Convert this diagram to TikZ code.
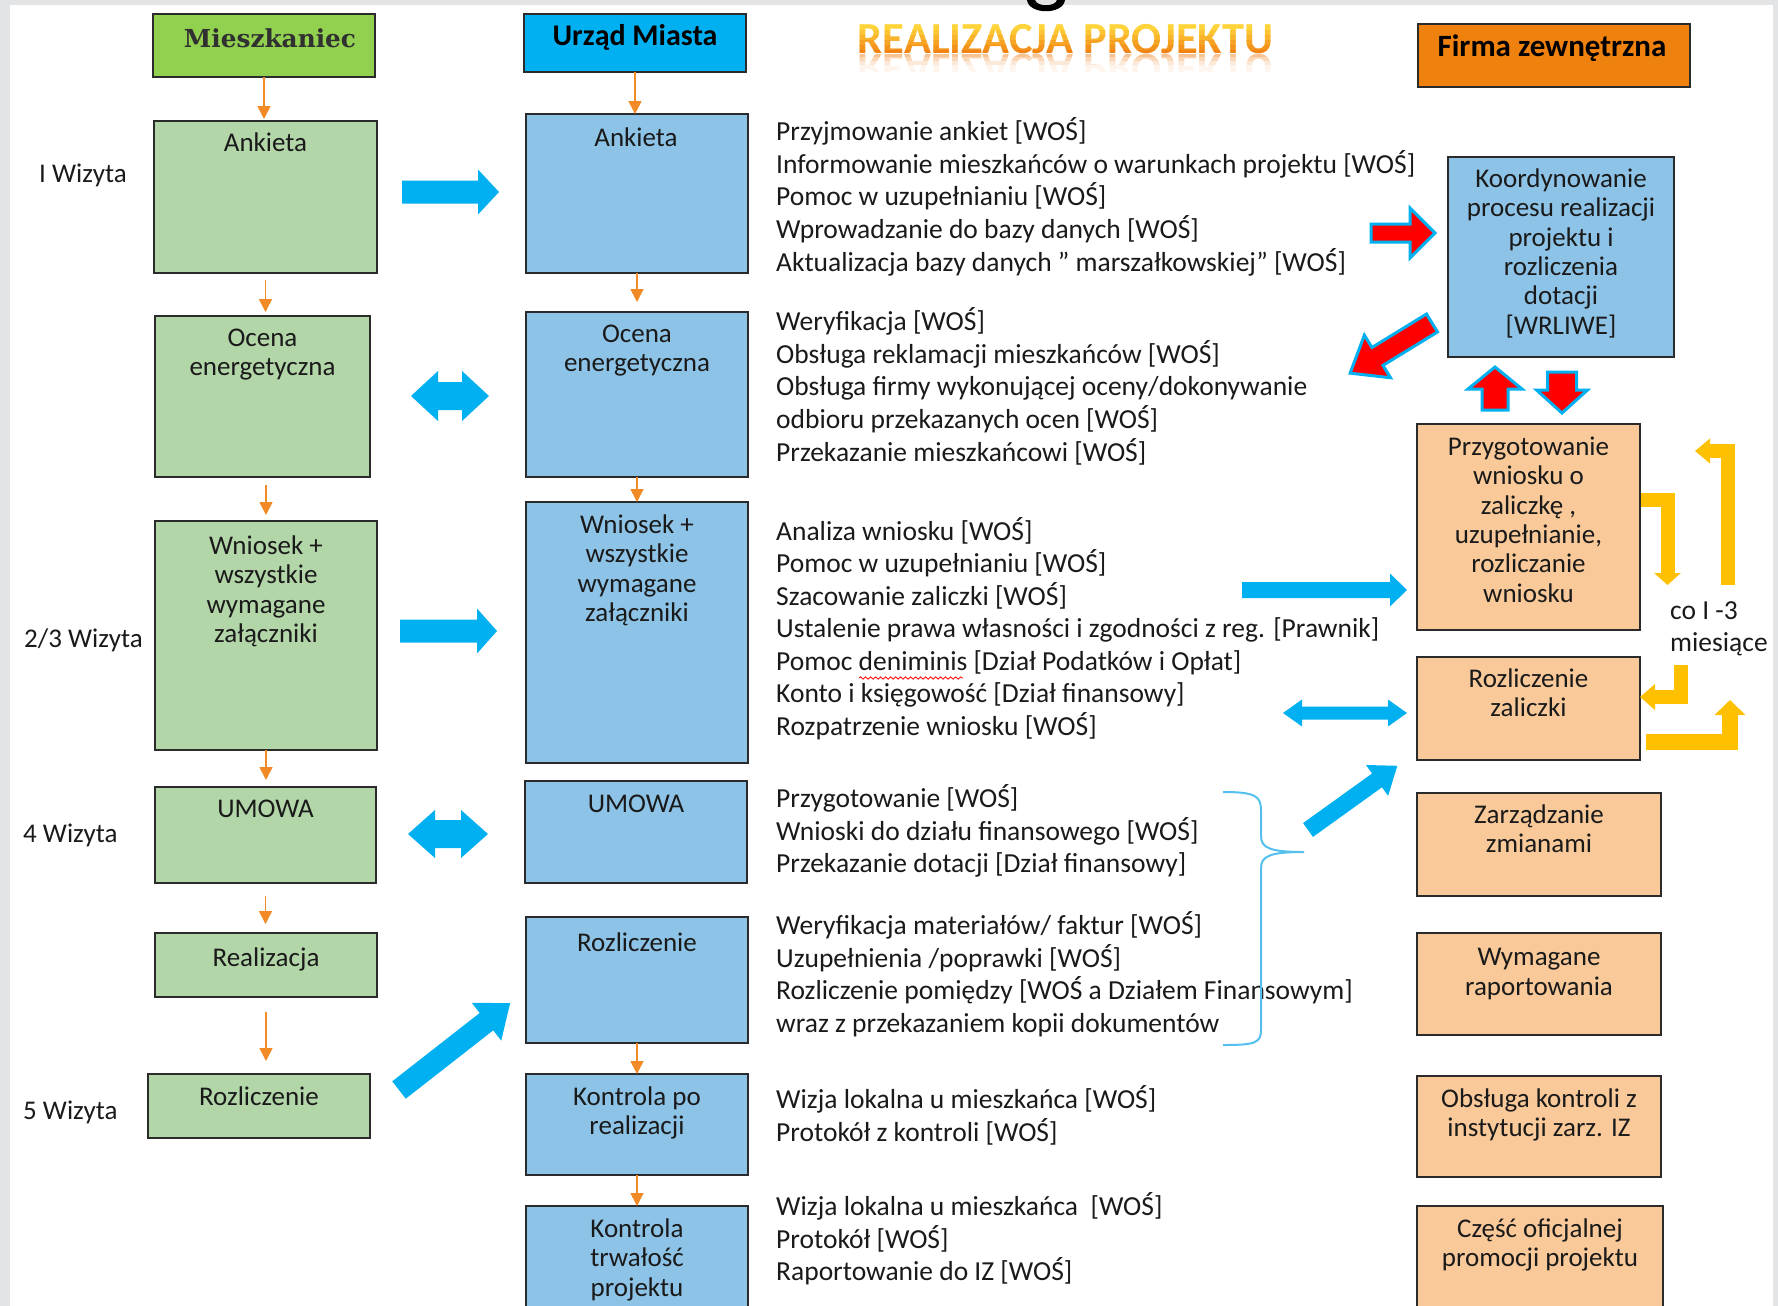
\documentclass[tikz,border=0pt]{standalone}
\usepackage{fontspec}
\setmainfont{Carlito}
\newfontfamily\slabfont{DejaVu Serif}
\usetikzlibrary{arrows.meta,fit,decorations.pathmorphing}
\definecolor{gfill}{HTML}{B3D6A9}
\definecolor{ghead}{HTML}{92D050}
\definecolor{bfill}{HTML}{8DC3E6}
\definecolor{bhead}{HTML}{00B0F0}
\definecolor{ofill}{HTML}{F9C999}
\definecolor{ohead}{HTML}{EF820E}
\definecolor{cyanA}{HTML}{00B0F0}
\definecolor{yelA}{HTML}{FFC000}
\definecolor{oline}{HTML}{F28A26}
\definecolor{boxline}{HTML}{2B2B2B}
\definecolor{txt}{HTML}{1A1A1A}
\definecolor{mtxt}{HTML}{303030}
\definecolor{braceC}{HTML}{55C0EE}
\definecolor{tyellow}{HTML}{FFD43A}
\definecolor{torange}{HTML}{EE7A10}
\definecolor{slideg}{HTML}{E3E4E5}
\tikzset{
  mybox/.style={draw=boxline, line width=1.8pt, inner sep=0pt, outer sep=0pt},
  gbox/.style={mybox, fill=gfill},
  ghd/.style={mybox, fill=ghead},
  bbox/.style={mybox, fill=bfill},
  bhd/.style={mybox, fill=bhead},
  obox/.style={mybox, fill=ofill},
  ohd/.style={mybox, fill=ohead},
  btxt/.style={font=\fontsize{27}{29.4}\selectfont, text=txt, align=center, anchor=north, inner sep=0pt, yshift=17.58pt, execute at begin node=\strut},
  blk/.style={font=\fontsize{27.5}{32.9}\selectfont, text=txt, align=left, anchor=north west, inner sep=0pt, yshift=20.03pt, execute at begin node=\strut},
  blkc/.style={font=\fontsize{27.5}{32.5}\selectfont, text=txt, align=left, anchor=north west, inner sep=0pt, yshift=19.75pt, execute at begin node=\strut},
  lbl/.style={font=\fontsize{27}{32}\selectfont, text=txt, anchor=base west, inner sep=0pt},
  hdtxt/.style={text=black, anchor=base, inner sep=0pt},
  oarr/.style={draw=oline, line width=1.6pt, -{Triangle[width=13pt,length=13pt]}},
  yarr/.style={draw=yelA, line join=miter},
  ttl/.style={anchor=base, inner sep=0pt, font=\bfseries},
  carr/.style={fill=cyanA},
  rarr/.style={fill=red, draw=cyanA, line width=3pt, line join=miter},
  pics/barrow/.style n args={4}{code={\path[pic actions] (0,-#2) -- ({#1-#4},-#2) -- ({#1-#4},-#3) -- (#1,0) -- ({#1-#4},#3) -- ({#1-#4},#2) -- (0,#2) -- cycle;}},
  pics/dbarrow/.style n args={4}{code={\path[pic actions] (0,0) -- (#4,-#3) -- (#4,-#2) -- ({#1-#4},-#2) -- ({#1-#4},-#3) -- (#1,0) -- ({#1-#4},#3) -- ({#1-#4},#2) -- (#4,#2) -- (#4,#3) -- cycle;}},
}
\begin{document}
\begin{tikzpicture}[x=1pt,y=-1pt]
\useasboundingbox (0,0) rectangle (1778,1306);
\fill[slideg] (0,0) rectangle (1778,1306);
\fill[white] (10,5) rectangle (1773,1306);
% partial glyph of cut-off title
\fill[black] (1027,0) .. controls (1029,15) and (1063,15) .. (1065,0) -- (1057,0) .. controls (1055,7) and (1037,7) .. (1035,0) -- cycle;

% ---------- title ----------
\foreach \ya/\yb/\pc in {0/31/100, 31/36/82, 36/41/64, 41/46/46, 46/51/28, 51/60/10} {
  \begin{scope}
    \clip (850,\ya) rectangle (1285,\yb);
    \node[ttl, text=tyellow!\pc!torange] (ttl\ya) at (1065.5,54) {\resizebox{415pt}{!}{REALIZACJA PROJEKTU}};
  \end{scope}
}
\foreach \ya/\yb/\pc in {54/58/45, 58/62/30, 62/66/17, 66/72/7} {
  \begin{scope}
    \clip (850,\ya) rectangle (1285,\yb);
    \node[ttl, text=torange!\pc!white] (ttr\ya) at (1065.5,55) {\scalebox{1}[-1]{\resizebox{415pt}{!}{REALIZACJA PROJEKTU}}};
  \end{scope}
}

% ---------- column 1: Mieszkaniec ----------
\node[ghd, fit={(153,14) (375,77)}] (hm) {};
\node[hdtxt, text=mtxt] (hmt) at (270,48) {\resizebox{172pt}{!}{\slabfont\bfseries Mieszkaniec}};
\node[gbox, fit={(154,121) (377,273)}] (g1) {};
\node[btxt] (g1t) at (265.5,148) {Ankieta};
\node[gbox, fit={(155,316) (370,477)}] (g2) {};
\node[btxt] (g2t) at (262.5,346) {Ocena\\energetyczna};
\node[gbox, fit={(155,521) (377,750)}] (g3) {};
\node[btxt] (g3t) at (266,553) {Wniosek +\\wszystkie\\wymagane\\załączniki};
\node[gbox, fit={(155,787) (376,883)}] (g4) {};
\node[btxt] (g4t) at (265.5,814) {UMOWA};
\node[gbox, fit={(155,933) (377,997)}] (g5) {};
\node[btxt] (g5t) at (266,963) {Realizacja};
\node[gbox, fit={(148,1074) (370,1138)}] (g6) {};
\node[btxt] (g6t) at (259,1102) {Rozliczenie};

\node[lbl] (w1) at (39,182) {I Wizyta};
\node[lbl] (w2) at (24,647) {2/3 Wizyta};
\node[lbl] (w4) at (23,842) {4 Wizyta};
\node[lbl] (w5) at (23,1119) {5 Wizyta};

% ---------- column 2: Urzad Miasta ----------
\node[bhd, fit={(524,14) (746,72)}] (hu) {};
\node[hdtxt, font=\fontsize{30}{32}\selectfont\bfseries] (hut) at (635,46) {Urząd Miasta};
\node[bbox, fit={(526,114) (748,273)}] (b1) {};
\node[btxt] (b1t) at (636,143) {Ankieta};
\node[bbox, fit={(526,312) (748,477)}] (b2) {};
\node[btxt] (b2t) at (637,342) {Ocena\\energetyczna};
\node[bbox, fit={(526,502) (748,763)}] (b3) {};
\node[btxt] (b3t) at (637,532) {Wniosek +\\wszystkie\\wymagane\\załączniki};
\node[bbox, fit={(525,781) (747,883)}] (b4) {};
\node[btxt] (b4t) at (636,809) {UMOWA};
\node[bbox, fit={(526,917) (748,1043)}] (b5) {};
\node[btxt] (b5t) at (637,948) {Rozliczenie};
\node[bbox, fit={(526,1074) (748,1175)}] (b6) {};
\node[btxt] (b6t) at (637,1104) {Kontrola po\\realizacji};
\node[bbox, fit={(526,1206) (748,1330)}] (b7) {};
\node[btxt] (b7t) at (637,1236) {Kontrola\\trwałość\\projektu};

% ---------- column 4: Firma zewnetrzna ----------
\node[ohd, fit={(1418,24) (1690,87)}] (hf) {};
\node[hdtxt, font=\fontsize{31}{33}\selectfont\bfseries] (hft) at (1552,57) {Firma zewnętrzna};
\node[bbox, fit={(1448,157) (1674,357)}] (k1) {};
\node[btxt] (k1t) at (1561,186) {Koordynowanie\\procesu realizacji\\projektu i\\rozliczenia\\dotacji\\{[WRLIWE]}};
\node[obox, fit={(1417,424) (1640,630)}] (f1) {};
\node[btxt] (f1t) at (1528.5,454) {Przygotowanie\\wniosku o\\zaliczkę ,\\uzupełnianie,\\rozliczanie\\wniosku};
\node[obox, fit={(1417,657) (1640,760)}] (f2) {};
\node[btxt] (f2t) at (1528.5,686) {Rozliczenie\\zaliczki};
\node[obox, fit={(1417,793) (1661,896)}] (f3) {};
\node[btxt] (f3t) at (1539,822) {Zarządzanie\\zmianami};
\node[obox, fit={(1417,933) (1661,1035)}] (f4) {};
\node[btxt] (f4t) at (1539,966) {Wymagane\\raportowania};
\node[obox, fit={(1417,1076) (1661,1177)}] (f5) {};
\node[btxt] (f5t) at (1539,1106) {Obsługa kontroli z\\instytucji zarz. IZ};
\node[obox, fit={(1417,1206) (1663,1330)}] (f6) {};
\node[btxt] (f6t) at (1540,1236) {Część oficjalnej\\promocji projektu};
\node[blk] (co) at (1670,621) {co I -3\\miesiące};

% ---------- text blocks ----------
\node[blk] (t1) at (776,137) {Przyjmowanie ankiet [WOŚ]\\
Informowanie mieszkańców o warunkach projektu [WOŚ]\\
Pomoc w uzupełnianiu [WOŚ]\\
Wprowadzanie do bazy danych [WOŚ]\\
Aktualizacja bazy danych ” marszałkowskiej” [WOŚ]};
\node[blk] (t2) at (776,327) {Weryfikacja [WOŚ]\\
Obsługa reklamacji mieszkańców [WOŚ]\\
Obsługa firmy wykonującej oceny/dokonywanie\\
odbioru przekazanych ocen [WOŚ]\\
Przekazanie mieszkańcowi [WOŚ]};
\node[blkc] (t3) at (776,537) {Analiza wniosku [WOŚ]\\
Pomoc w uzupełnianiu [WOŚ]\\
Szacowanie zaliczki [WOŚ]\\
Ustalenie prawa własności i zgodności z reg. [Prawnik]\\
Pomoc deniminis [Dział Podatków i Opłat]\\
Konto i księgowość [Dział finansowy]\\
Rozpatrzenie wniosku [WOŚ]};
\draw[red, line width=0.8pt, decorate, decoration={snake, amplitude=1.2pt, segment length=5pt}] (859,678) -- (963,678);
\node[blk] (t4) at (776,804) {Przygotowanie [WOŚ]\\
Wnioski do działu finansowego [WOŚ]\\
Przekazanie dotacji [Dział finansowy]};
\node[blk] (t5) at (776,931) {Weryfikacja materiałów/ faktur [WOŚ]\\
Uzupełnienia /poprawki [WOŚ]\\
Rozliczenie pomiędzy [WOŚ a Działem Finansowym]\\
wraz z przekazaniem kopii dokumentów};
\node[blk] (t6) at (776,1105) {Wizja lokalna u mieszkańca [WOŚ]\\
Protokół z kontroli [WOŚ]};
\node[blk] (t7) at (776,1212) {Wizja lokalna u mieszkańca~ [WOŚ]\\
Protokół [WOŚ]\\
Raportowanie do IZ [WOŚ]};

% brace
\draw[braceC, line width=2pt] (1223,792) .. controls (1255,792) and (1261,796) .. (1261,810) -- (1261,836) .. controls (1261,848) and (1270,852) .. (1304,852) .. controls (1270,852) and (1261,856) .. (1261,868) -- (1261,1030) .. controls (1261,1043) and (1255,1045) .. (1223,1045);

% ---------- orange connectors ----------
\draw[oarr, shorten >=2pt] (hm.south) -- (hm.south |- g1.north);
\draw[oarr, shorten <=7pt, shorten >=4pt] (g1.south) -- (g1.south |- g2.north);
\draw[oarr, shorten <=8pt, shorten >=6pt] (g3.north |- g2.south) -- (g3.north);
\draw[oarr, shorten >=7pt] (g3.south) -- (g3.south |- g4.north);
\draw[oarr, shorten <=13pt, shorten >=9pt] (g4.south) -- (g4.south |- g5.north);
\draw[oarr, shorten <=15pt, shorten >=13pt] (g5.south) -- (g5.south |- g6.north);
\draw[oarr] (hu.south) -- (hu.south |- b1.north);
\draw[oarr, shorten >=10pt] (b1.south) -- (b1.south |- b2.north);
\draw[oarr] (b2.south) -- (b2.south |- b3.north);
\draw[oarr] (b5.south) -- (b5.south |- b6.north);
\draw[oarr] (b6.south) -- (b6.south |- b7.north);

% ---------- cyan block arrows ----------
\pic[carr] at (402,192) {barrow={97}{11.5}{22.5}{21}};
\pic[carr] at (411,396) {dbarrow={78}{14}{25}{27}};
\pic[carr] at (400,631) {barrow={97}{11.5}{22.5}{20}};
\pic[carr] at (408,834) {dbarrow={80}{14}{24}{27}};
\pic[carr, rotate=38] at (399,1090) {barrow={141}{11}{24}{30}};
\pic[carr] at (1242,590) {barrow={165}{8}{16.5}{17}};
\pic[carr] at (1283,713) {dbarrow={124}{6.5}{13.5}{19}};
\pic[carr, rotate=35.7] at (1308,830) {barrow={110}{8.5}{19}{25}};

% ---------- red arrows ----------
\pic[rarr] at (1371,233) {barrow={64}{9}{25}{25}};
\pic[rarr, rotate=211.5] at (1432,323) {barrow={96}{10.5}{25}{32}};
\pic[rarr, rotate=90] at (1495,410) {barrow={43}{13}{27}{22}};
\pic[rarr, rotate=-90] at (1562,372) {barrow={41}{14.5}{25.5}{23}};

% ---------- yellow bent arrows ----------
\coordinate (ya0) at (1641,500);
\coordinate (yb0) at (1728,585);
\coordinate (yd0) at (1680.5,665);
\coordinate (ye0) at (1646,742);
\draw[yarr, line width=14pt, -{Triangle[width=26pt,length=12pt]}] (ya0) -- (1667.5,500) -- (1667.5,585);
\draw[yarr, line width=14pt, -{Triangle[width=24pt,length=15pt]}] (yb0) -- (1728,451) -- (1695,451);
\draw[yarr, line width=14pt, -{Triangle[width=25pt,length=15pt]}] (yd0) -- (1680.5,697) -- (f2.east |- 0,697);
\draw[yarr, line width=16pt, -{Triangle[width=30pt,length=15pt]}] (ye0) -- (1730,742) -- (1730,700);
\end{tikzpicture}
\end{document}
